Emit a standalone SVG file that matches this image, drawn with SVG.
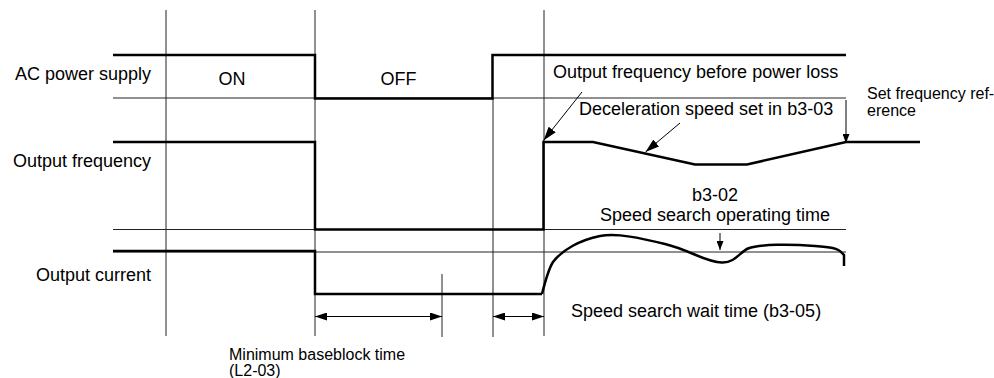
<svg xmlns="http://www.w3.org/2000/svg" width="994" height="378" viewBox="0 0 994 378">
<style>
  text { font-family: "Liberation Sans", Arial, sans-serif; fill: #000; }
  .big { font-size: 18px; }
  .small { font-size: 16px; }
  .thin { stroke: #222; stroke-width: 1; fill: none; }
  .thick { stroke: #000; stroke-width: 2.5; fill: none; stroke-linejoin: miter; }
  .ptr { stroke: #000; stroke-width: 1; fill: none; }
</style>
<defs>
  <marker id="ah" viewBox="0 0 12 8" refX="12" refY="4" markerWidth="12" markerHeight="8" markerUnits="userSpaceOnUse" orient="auto-start-reverse">
    <path d="M0,0 L12,4 L0,8 Z" fill="#000"/>
  </marker>
  <marker id="ah2" viewBox="0 0 14 9" refX="14" refY="4.5" markerWidth="14" markerHeight="9" markerUnits="userSpaceOnUse" orient="auto">
    <path d="M0,0 L14,4.5 L0,9 Z" fill="#000"/>
  </marker>
  <marker id="ah3" viewBox="0 0 9 7" refX="9" refY="3.5" markerWidth="9" markerHeight="7" markerUnits="userSpaceOnUse" orient="auto">
    <path d="M0,0 L9,3.5 L0,7 Z" fill="#000"/>
  </marker>
</defs>
<rect width="994" height="378" fill="#fff"/>

<g id="grid">
  <line class="thin" x1="166" y1="10" x2="166" y2="336"/>
  <line class="thin" x1="315" y1="10" x2="315" y2="336"/>
  <line class="thin" x1="544" y1="10" x2="544" y2="336"/>
  <line class="thin" x1="493" y1="98" x2="493" y2="337"/>
  <line class="thin" x1="442" y1="274" x2="442" y2="337"/>
  <line class="thin" x1="113" y1="98" x2="846" y2="98"/>
  <line class="thin" x1="113" y1="229.5" x2="846" y2="229.5"/>
  <line class="thin" x1="113" y1="252" x2="846" y2="252"/>
</g>

<g id="labels">
  <text class="big" x="151" y="80" text-anchor="end">AC power supply</text>
  <text class="big" x="151" y="167" text-anchor="end">Output frequency</text>
  <text class="big" x="151" y="281" text-anchor="end">Output current</text>
  <text class="big" x="232" y="85" text-anchor="middle">ON</text>
  <text class="big" x="398.5" y="85" text-anchor="middle">OFF</text>
</g>

<g id="ac-power-supply">
  <polyline class="thick" points="113,55 315,55 315,98.5 492.5,98.5 492.5,55 846,55"/>
</g>

<g id="output-frequency">
  <polyline class="thick" points="113,142 315,142 315,229.5 543.5,229.5 543.5,142 593,142 695,164.5 747,164.5 846,142 920,142"/>
</g>

<g id="output-current">
  <polyline class="thick" points="113,251 315,251 315,294 542,294"/>
  <path class="thick" d="M542,294 C545,282 548,270 553,262 C562,250 580,240 600,236 C618,233 640,238 665,244 C690,250 705,262 722,262.5 C735,263 740,252 748,248.5 C760,244 790,244 815,246 C830,247 838,248 842,253 L844,255 L844,266"/>
</g>

<g id="connectors">
  <line class="ptr" x1="582" y1="92" x2="543.5" y2="140.5" marker-end="url(#ah2)"/>
  <line class="ptr" x1="680" y1="123" x2="645.5" y2="152" marker-end="url(#ah2)"/>
  <line class="ptr" x1="846" y1="100" x2="846" y2="143" marker-end="url(#ah3)"/>
  <line class="ptr" x1="720" y1="233" x2="720" y2="250" marker-end="url(#ah3)"/>
  <line class="ptr" x1="315" y1="316.5" x2="442" y2="316.5" marker-start="url(#ah)" marker-end="url(#ah)"/>
  <line class="ptr" x1="493" y1="316.5" x2="544" y2="316.5" marker-start="url(#ah)" marker-end="url(#ah)"/>
</g>

<g id="annotations">
  <text class="big" x="553" y="78">Output frequency before power loss</text>
  <text class="big" x="579" y="115">Deceleration speed set in b3-03</text>
  <text class="small" x="867" y="99">Set frequency ref-</text>
  <text class="small" x="867" y="115.5">erence</text>
  <text class="big" x="715" y="201" text-anchor="middle">b3-02</text>
  <text class="big" x="715" y="221" text-anchor="middle">Speed search operating time</text>
  <text class="big" x="571" y="317">Speed search wait time (b3-05)</text>
  <text class="small" x="229" y="360">Minimum baseblock time</text>
  <text class="small" x="229" y="375.5">(L2-03)</text>
</g>
</svg>
